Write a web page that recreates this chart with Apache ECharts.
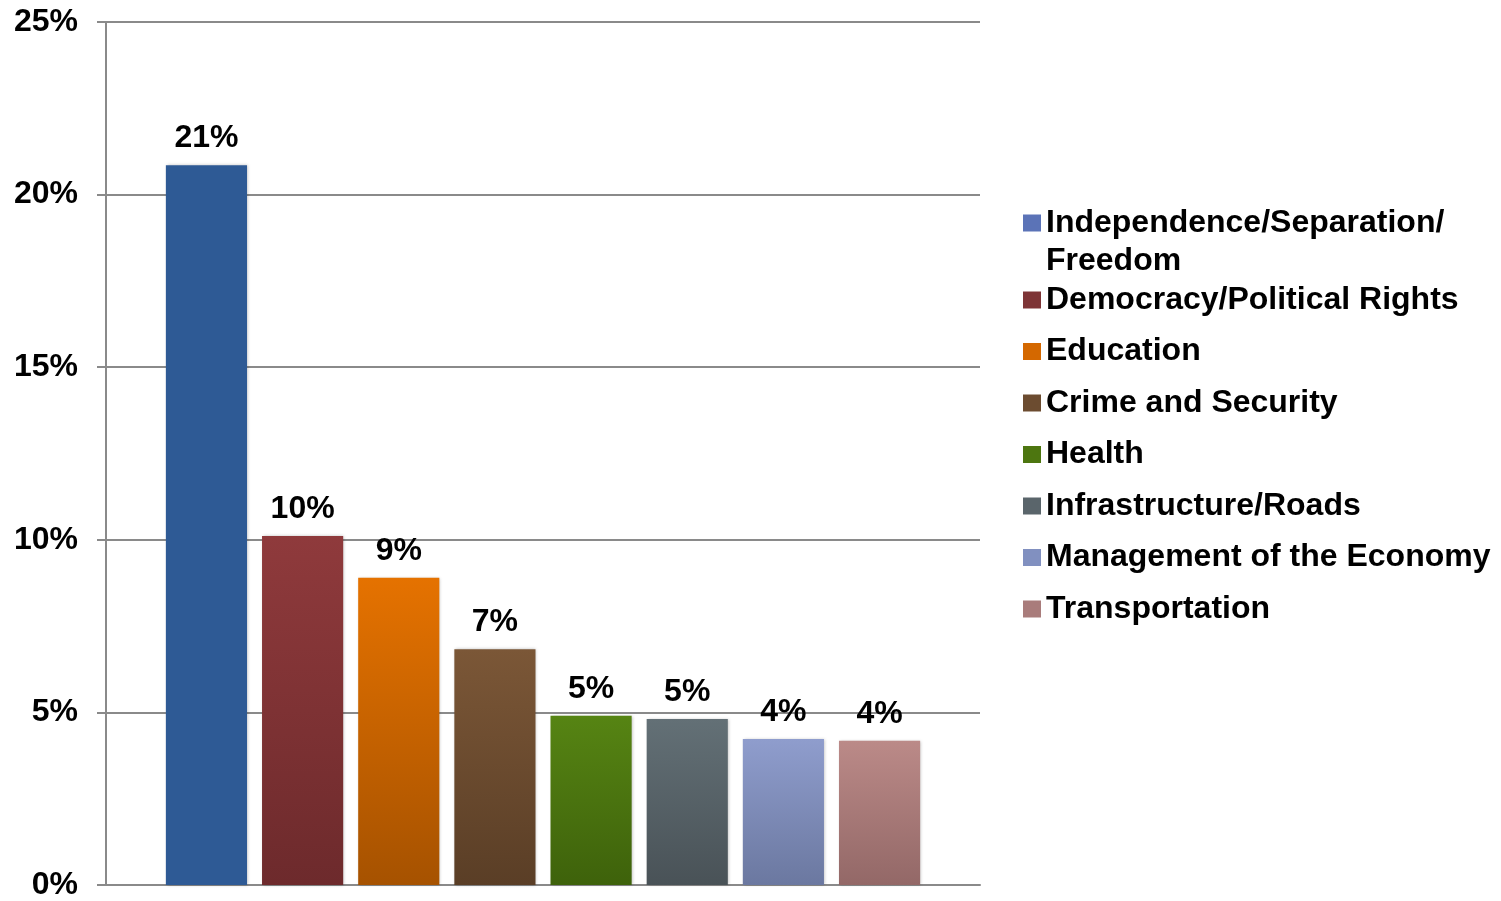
<!DOCTYPE html>
<html>
<head>
<meta charset="utf-8">
<script src="https://cdn.jsdelivr.net/npm/echarts@6/dist/echarts.min.js"></script>
<style>
html, body { margin: 0; padding: 0; background: #fff; }
#chart { width: 1501px; height: 901px; }
</style>
</head>
<body>
<div id="chart"></div>
<script>
var issues = ['Independence/Separation/Freedom', 'Democracy/Political Rights', 'Education',
    'Crime and Security', 'Health', 'Infrastructure/Roads', 'Management of the Economy', 'Transportation'];
var shares = [20.85, 10.11, 8.9, 6.83, 4.9, 4.81, 4.23, 4.18];
var topColors = ['#2e5a95', '#8f3a3c', '#e57200', '#7b5737', '#568413', '#637076', '#8f9dcd', '#bb8a88'];
var bottomColors = ['#2e5a95', '#6d2a2c', '#a65200', '#5a3e26', '#3e620b', '#495257', '#6b78a0', '#936867'];
var iconColors = ['#5b73b7', '#7e3436', '#d46800', '#6c4c30', '#4d7610', '#5a656b', '#8190c0', '#a97c7b'];
var yTicks = [0, 5, 10, 15, 20, 25];

var FONT = 'Liberation Sans, Arial, sans-serif';
var chart = echarts.init(document.getElementById('chart'));

function grad(i) {
    return new echarts.graphic.LinearGradient(0, 0, 0, 1, [
        { offset: 0, color: topColors[i] },
        { offset: 1, color: bottomColors[i] }
    ]);
}

var series = [];
for (var i = 0; i < issues.length; i++) {
    series.push({
        name: issues[i],
        type: 'bar',
        data: [shares[i]],
        barGap: '18.5%',
        barCategoryGap: '13.7%',
        itemStyle: {
            color: grad(i),
            shadowBlur: 3,
            shadowOffsetX: 1,
            shadowColor: 'rgba(0,0,0,0.25)'
        },
        label: {
            show: true,
            position: 'top',
            distance: 11,
            color: '#000',
            fontFamily: FONT,
            fontWeight: 'bold',
            fontSize: 32,
            formatter: function (p) { return Math.round(p.value) + '%'; }
        }
    });
}

var legendB = [];
for (var j = 1; j < issues.length; j++) {
    legendB.push({ name: issues[j], itemStyle: { color: iconColors[j] } });
}

chart.setOption({
    animation: false,
    backgroundColor: '#fff',
    grid: { left: 106, right: 521, top: 22, bottom: 11 },
    xAxis: {
        type: 'category',
        data: [''],
        axisLine: { lineStyle: { color: '#8a8a8a', width: 2 } },
        axisTick: { show: false },
        axisLabel: { show: false }
    },
    yAxis: {
        type: 'value',
        min: yTicks[0],
        max: yTicks[yTicks.length - 1],
        interval: 5,
        axisLine: { show: true, lineStyle: { color: '#8a8a8a', width: 2 } },
        axisTick: { show: true, length: 9, lineStyle: { color: '#8a8a8a', width: 2 } },
        splitLine: { lineStyle: { color: '#8a8a8a', width: 2 } },
        axisLabel: {
            margin: 28,
            color: '#000',
            fontFamily: FONT,
            fontWeight: 'bold',
            fontSize: 32,
            formatter: '{value}%'
        }
    },
    legend: [{
        orient: 'vertical',
        left: 1018,
        top: 161,
        itemWidth: 18,
        itemHeight: 17,
        icon: 'rect',
        data: [{ name: issues[0], itemStyle: { color: iconColors[0] } }],
        formatter: function () { return '\nIndependence/Separation/\nFreedom'; },
        textStyle: { color: '#000', fontFamily: FONT, fontWeight: 'bold', fontSize: 32, lineHeight: 38 }
    }, {
        orient: 'vertical',
        left: 1018,
        top: 276,
        itemWidth: 18,
        itemHeight: 17,
        itemGap: 13.5,
        icon: 'rect',
        data: legendB,
        textStyle: { color: '#000', fontFamily: FONT, fontWeight: 'bold', fontSize: 32, lineHeight: 38 }
    }],
    series: series
});
</script>
</body>
</html>
